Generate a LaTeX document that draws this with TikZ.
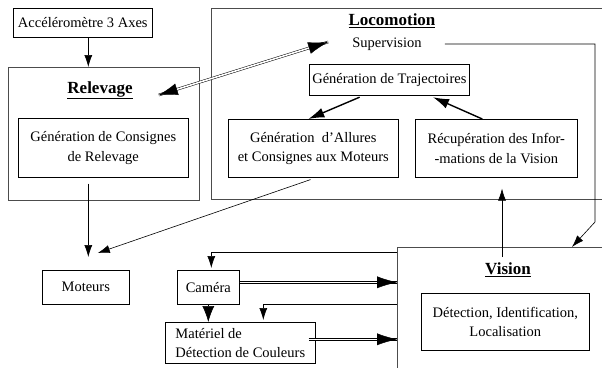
\documentclass[tikz,border=0pt]{standalone}
\usepackage{fontspec}
\setmainfont{Liberation Serif}
\usetikzlibrary{arrows.meta, positioning, calc, decorations.markings}

\tikzset{
  txt/.style={font=\fontsize{14.5}{19.5}\selectfont, inner sep=3pt},
  titre/.style={font=\fontsize{17}{20}\selectfont\bfseries, inner sep=2pt},
  bloc/.style={draw=black, line width=0.6pt, anchor=north west, txt, align=center},
  cadre/.style={draw=black!70, line width=0.9pt, anchor=north west},
  arr/.style={-{Latex[length=12pt,width=8pt]}, line width=0.6pt},
  grosarr/.style={-{Latex[length=16pt,width=10pt]}, line width=1.4pt},
  largarr/.style={-{Latex[length=16pt,width=12pt]}, line width=0.6pt},
  dblarr/.style={double, double distance=1.6pt, line width=0.5pt},
  bout/.style={postaction={decorate, decoration={markings,
      mark=at position 1 with {\arrow{Latex[length=20pt,width=12pt]}}}}},
  debut/.style={postaction={decorate, decoration={markings,
      mark=at position 0 with {\arrowreversed{Latex[length=19pt,width=12pt]}}}}},
}

\begin{document}
\begin{tikzpicture}[x=1pt, y=-1pt]
  \useasboundingbox (0,0) rectangle (602,367);
  \clip (0,0) rectangle (602,367);

  % grands cadres
  \node[cadre, minimum width=191pt, minimum height=133pt] (relevage) at (8,67) {};
  \node[cadre, minimum width=430pt, minimum height=191pt] (loco) at (211,8) {};
  \node[cadre, minimum width=240pt, minimum height=160pt] (vision) at (397,247) {};

  % titres
  \node[titre] (relTitre) at (100,90) {\underline{Relevage}};
  \node[titre] (locoTitre) at (392,21) {\underline{Locomotion}};
  \node[titre] (visTitre) at (508,270) {\underline{Vision}};
  \node[txt] (superv) at (387,44) {Supervision};

  % blocs
  \node[bloc, minimum width=139pt, minimum height=29pt] (acc) at (13,8) {Accéléromètre 3 Axes};
  \node[bloc, minimum width=170pt, minimum height=59pt] (consRel) at (18,118)
    {Génération de Consignes\\de Relevage};
  \node[bloc, minimum width=87pt, minimum height=34pt] (moteurs) at (42,270) {Moteurs};
  \node[bloc, minimum width=159pt, minimum height=31pt] (traj) at (309,64) {Génération de Trajectoires};
  \node[bloc, minimum width=170pt, minimum height=58pt] (allures) at (228,119)
    {Génération\ \ d’Allures\\et Consignes aux Moteurs};
  \node[bloc, minimum width=162pt, minimum height=58pt] (recup) at (415,119)
    {Récupération des Infor-\\-mations de la Vision};
  \node[bloc, minimum width=168pt, minimum height=57pt] (detect) at (421,293)
    {Détection, Identification,\\Localisation};
  \node[bloc, minimum width=62pt, minimum height=34pt] (camera) at (177,270) {Caméra};
  \node[bloc, minimum width=150pt, minimum height=41pt, align=left] (materiel) at (165,322)
    {Matériel de\\Détection de Couleurs};

  % points d'attache
  \coordinate (visIn) at ([xshift=105pt, yshift=-10pt]vision.north west);
  \coordinate (camOut) at ([yshift=5pt]camera.east);
  \coordinate (matOut) at ([xshift=-7pt, yshift=3.5pt]materiel.east);
  \coordinate (relOut) at ([xshift=24pt, yshift=-5pt]relTitre.east);
  \coordinate (supIn) at ([xshift=-21pt, yshift=2pt]superv.west);

  % liaisons
  \draw[arr] ([xshift=5.5pt]acc.south) -- ([xshift=5.5pt]acc.south |- relevage.north);
  \draw[arr, shorten <=6pt, shorten >=13pt] ([xshift=-15pt]consRel.south)
    -- ([xshift=-15pt]consRel.south |- moteurs.north);
  \draw[arr, shorten <=6pt] ([xshift=3pt]allures.south) -- ([xshift=12pt, yshift=17pt]moteurs.north);
  \draw[arr, shorten <=20pt] (superv.east) -| (595,222) -- ([xshift=175pt]vision.north west);
  \draw[grosarr, shorten <=4pt] ([xshift=-26pt]traj.south) -- ([xshift=-5pt]allures.north);
  \draw[grosarr, shorten >=4pt] ([xshift=-14pt]recup.north) -- ([xshift=40pt]traj.south);
  \draw[arr, shorten >=11pt] (visIn) -- (visIn |- recup.south);
  \draw[arr, shorten >=2pt] ([yshift=-5pt]vision.north west) -| ([xshift=3pt]camera.north);
  \draw[arr, shorten >=2pt] ([yshift=-57pt]vision.north west) -| ([xshift=23pt]materiel.north);
  \draw[largarr] (camera.south) -- (camera.south |- materiel.north);

  % liaisons doubles
  \draw[dblarr] (relOut) -- (supIn);
  \path[debut, bout] (relOut) -- (supIn);
  \draw[dblarr] (camOut) -- (camOut -| vision.west);
  \path[bout] (camOut) -- (camOut -| vision.west);
  \draw[dblarr] (matOut) -- (matOut -| vision.west);
  \path[bout] (matOut) -- (matOut -| vision.west);
\end{tikzpicture}
\end{document}
